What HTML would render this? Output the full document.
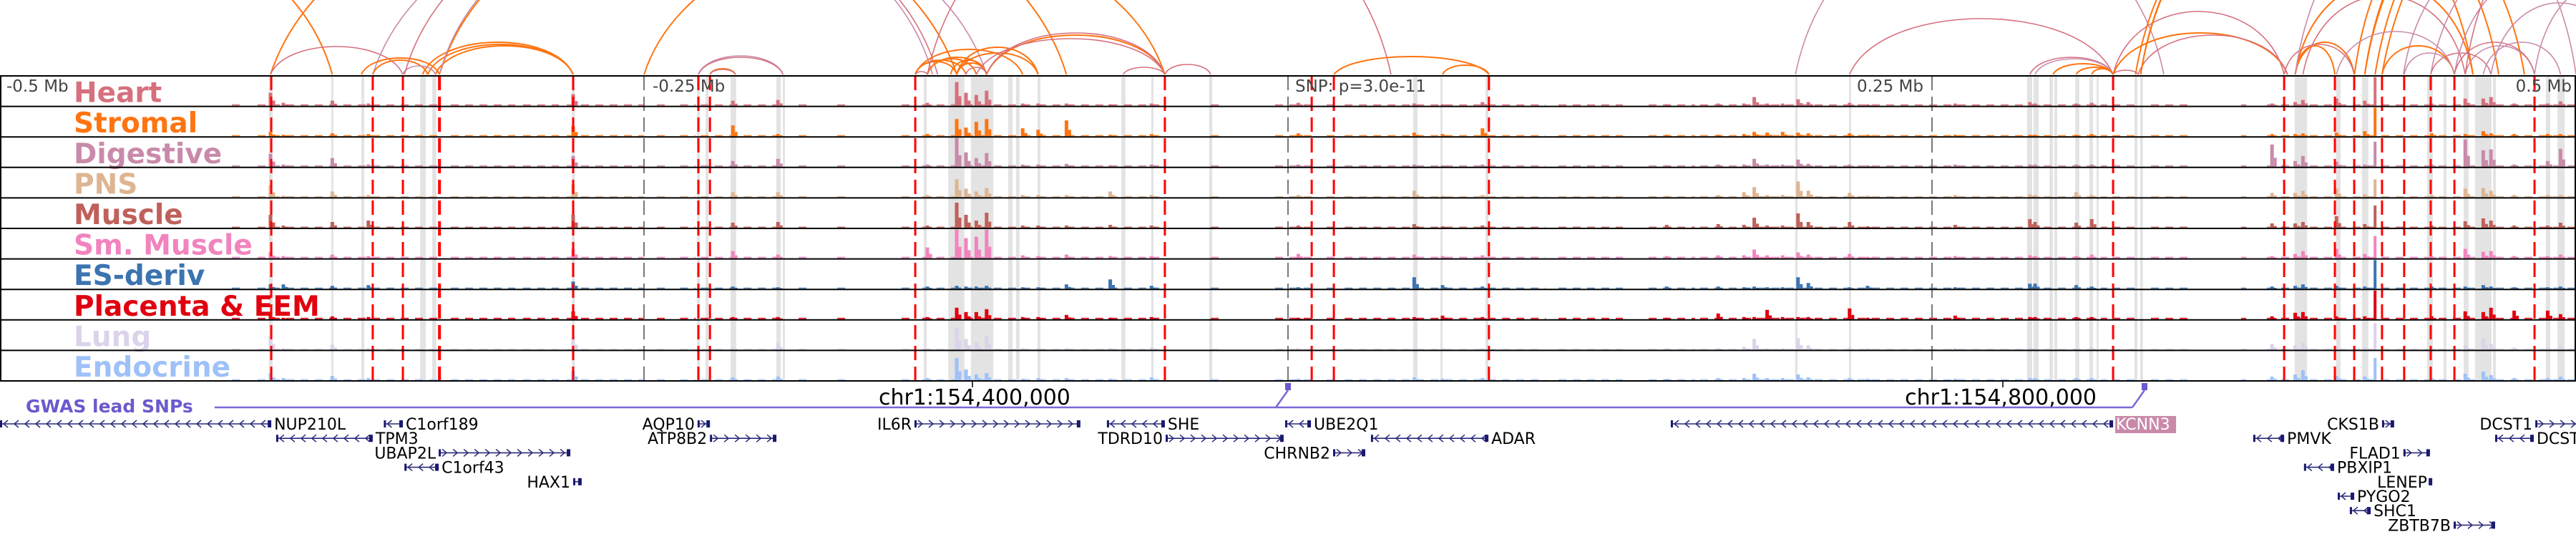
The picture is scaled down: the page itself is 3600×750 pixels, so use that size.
<!DOCTYPE html>
<html><head><meta charset="utf-8"><style>
html,body{margin:0;padding:0;background:#fff;}
svg{display:block;font-family:"DejaVu Sans","Liberation Sans",sans-serif;}
</style></head><body>
<svg id="chart" width="3600" height="750" viewBox="0 0 3600 750" xmlns="http://www.w3.org/2000/svg"></svg>
<script>
// ---------- data ----------
const trackNames = ["Heart","Stromal","Digestive","PNS","Muscle","Sm. Muscle","ES-deriv","Placenta & EEM","Lung","Endocrine"];
const trackColors = ["#d6707e","#ff7410","#c98aaa","#deb592","#c0605a","#f283be","#3b74b0","#e0000f","#dcd3ea","#9ec1f8"];
const axisTickKb = [-500,-250,0,250,500];
const axisTickLabels = ["-0.5 Mb","-0.25 Mb","","0.25 Mb","0.5 Mb"];
const snpLabel = "SNP: p=3.0e-11";
const gwasSnpKb = [0, 332.5];
const coordTickKb = [-122.5, 277.5];
const coordTickLabels = ["chr1:154,400,000","chr1:154,800,000"];
const redLinesKb = [-394.7,-355.3,-343.6,-329.4,-277.5,-228.9,-224.4,-144.7,-47.8,9.2,17.8,78,320.3,386.7,406.4,413.9,424.7,433.3,443.6,452.8,483.9];
const bandStart = [-395.6,-371.4,-359.7,-336.9,-332.2,-278,-229.4,-226.1,-216.4,-198.6,-196.1,-141.4,-131.9,-123.1,-108.6,-105.6,-97.2,-64.7,-53.1,-30.6,48.6,59.2,76.7,196.9,217.8,286.9,289.4,295.6,297.5,305.6,311.1,313.9,328.6,330.8,390.8,406.9,416.9,442.2,448.6,456.4,460.8,467.8,488.3,492.8];
const bandEnd   = [-394.2,-370.6,-358.6,-334.7,-330.6,-276.9,-228.3,-225,-214.2,-196.9,-195.3,-140.3,-125.6,-114.4,-106.9,-104.2,-96.1,-63.1,-52.2,-29.4,50.3,60,77.8,197.8,218.6,288.9,291.4,297,298.6,307.2,312.5,314.7,329.7,331.9,395.6,408.6,419.4,444.4,449.7,458.3,467.2,468.9,490,495.6];
const bgStart = [-410,-400,-325,-297,-280,-245,-236,-228,-190,-175,-150,-142,-97,-30,-5,15,22,105,140,160,320,335,370,380];
const bgEnd   = [-405,-330,-300,-283,-250,-240,-230,-195,-185,-170,-145,-100,-50,-25,10,20,100,130,158,318,330,350,372,500];
const bgLevel = [2,1.5,2,1.5,1.5,2,1.5,2,1.5,1.5];
const peakKb = [-395,-390,-371,-357,-277.5,-215.5,-198,-140,-128.6,-125,-121,-117,-103,-97,-86,-69,-53,4,49,60,75.5,147,167,177,181,186,192,198,202,218,225,259,288,290,306,312,382,391,394,407,418,422,444,457,464,467,476,489,494];
const peakHeart     = [18,4,7,3,16,7,8,4,33,18,15,21,3,3,3,2,3,4,3,2,5,2,3,3,12,3,3,9,5,4,2,3,5,3,3,4,3,5,8,10,7,40,3,10,10,12,3,3,6];
const peakStromal   = [6,2,4,3,14,15,3,3,24,12,20,24,11,9,22,2,3,4,5,3,11,2,2,3,6,5,6,5,4,4,2,2,2,2,2,3,3,3,4,5,7,40,4,3,7,4,3,3,3];
const peakDigestive = [18,3,12,3,15,8,11,3,40,20,12,19,3,3,4,2,3,3,3,2,3,2,3,3,11,3,3,10,4,3,2,3,3,3,3,3,31,8,15,7,3,35,3,38,23,24,3,8,25];
const peakPNS       = [17,2,8,3,18,7,7,3,25,12,8,13,3,3,3,8,3,3,9,2,3,2,3,7,14,3,3,22,9,6,2,3,4,3,7,3,6,6,9,12,4,25,3,12,13,9,3,3,3];
const peakMuscle    = [18,3,8,10,18,7,8,3,35,18,10,21,3,3,3,4,3,3,5,2,3,4,5,4,14,3,3,20,8,8,2,4,12,8,7,12,6,6,8,16,5,31,3,9,13,10,3,3,7];
const peakSmMuscle  = [9,3,5,3,13,10,5,15,40,28,30,40,4,3,5,3,3,6,5,3,4,3,4,4,12,4,4,8,5,6,2,3,4,3,3,5,3,6,10,13,6,31,3,13,9,10,3,3,5];
const peakES        = [6,6,4,5,10,3,2,3,4,3,3,4,2,2,6,13,4,2,16,5,3,3,3,2,3,2,2,16,8,2,4,2,7,7,5,3,3,4,6,4,3,40,3,3,5,3,2,2,3];
const peakPlacenta  = [7,2,4,3,11,3,3,3,16,10,10,14,3,3,6,2,3,2,3,5,3,2,8,3,3,13,3,3,3,15,2,5,3,3,3,3,4,9,10,4,4,40,4,11,10,16,12,12,7];
const peakLung      = [19,2,7,2,17,3,9,2,31,15,10,19,2,2,2,2,3,2,2,2,2,2,2,4,15,2,2,16,6,3,2,2,3,2,2,3,8,6,10,4,3,37,2,6,16,8,3,3,4];
const peakEndocrine = [10,3,6,3,13,4,5,3,31,15,8,10,2,3,3,2,4,2,4,2,3,2,3,3,9,3,3,8,4,3,2,2,3,3,3,3,5,8,14,6,5,31,3,9,12,7,3,3,5];
const peakSeries = [peakHeart,peakStromal,peakDigestive,peakPNS,peakMuscle,peakSmMuscle,peakES,peakPlacenta,peakLung,peakEndocrine];
const arcStart = [-395,-560,-395,-355.3,-359.7,-355.3,-336,-334,-331,-329.4,-343.6,-228.9,-228.9,-224.4,-224.4,-329.4,-343,-144.7,-144.7,-140,-140,-131,-128.6,-144.7,-128.6,-128.6,-144.7,-125,-140,-117,-117,-121,-250,-64,-47.8,17.8,60,197,218,320.3,320.3,330,331,329,331,288,290,297,306,312,320.3,391,391,386.7,391,394,391,418,418,422,414,424.7,433,443.6,452.8,457,452.8,443.6,464,467,457,483.9,433.3,424.7,407];
const arcEnd   = [-128.6,-371,-343.6,-117,-329.4,-334,-277.5,-277.5,-277.5,-86,-331,-196,-196,-214.5,-214.5,-138,-136,-128.6,-125,-121,-117,-117,-117,-103,-97,-97,-140,-117,40,-47.8,-47.8,-47.8,-47.8,-47.8,-30,78,78,340,320.3,386.7,388,388,470,480,460,320.3,320.3,320.3,320.3,320.3,330,406.4,413.9,413.9,460,457,500,560,540,580,520,600,520,550,530,483.9,483.9,467,494,520,560,540,452.8,452.8,452.8];
const arcScore = [260,220,39,240,23,20,45,42,40,260,12,26,24,8,7,230,240,18,20,22,24,20,16,35,38,30,4,10,270,55,58,50,200,10,14,25,13,230,78,88,58,55,280,290,270,24,22,15,10,8,6,40,45,42,130,110,250,300,280,320,260,330,180,200,150,40,45,30,45,100,250,130,30,40,60];
const arcTissue = [1,1,0,2,1,1,1,1,1,1,2,2,0,1,0,2,0,1,1,1,1,1,1,1,1,1,0,0,0,1,0,0,1,0,0,1,1,2,0,0,1,0,1,1,1,0,2,1,1,1,0,1,1,0,1,0,2,1,1,1,1,1,2,2,2,2,0,0,2,2,0,2,2,1,2];
const geneNames  = ["NUP210L","C1orf189","TPM3","UBAP2L","C1orf43","HAX1","AQP10","ATP8B2","IL6R","SHE","TDRD10","UBE2Q1","CHRNB2","ADAR","KCNN3","PMVK","CKS1B","FLAD1","PBXIP1","LENEP","PYGO2","SHC1","ZBTB7B","DCST1","DCST2"];
const geneStart  = [-500,-351,-392.8,-329.7,-343,-277.5,-229.2,-224.4,-145,-70.3,-47.5,-1.1,17.5,32.2,148.6,374.7,424.7,433,394.4,443.3,407.5,412.2,452.5,484.2,468.6];
const geneEnd    = [-394.7,-343.6,-355.3,-278.6,-329.7,-274.2,-224.4,-198.6,-80.6,-47.8,-1.7,8.9,30,77.8,320.3,386.7,429.4,443.3,406.1,444.2,413.9,420.3,468.6,503,483.6];
const geneStrand = [-1,-1,-1,1,-1,1,1,1,1,-1,1,-1,1,-1,-1,-1,1,1,-1,1,-1,-1,1,1,-1];
const geneRow    = [0,0,1,2,3,4,0,1,0,0,1,0,2,1,0,1,0,2,3,4,5,6,7,0,1];
const highlightGene = "KCNN3";

// ---------- layout ----------
const NS="http://www.w3.org/2000/svg";
const svg=document.getElementById('chart');
const X = kb => 1800 + kb*3.6;
const trackTop = 106, trackH = 42.6, nT = 10, tracksBottom = trackTop + trackH*nT;
const arcBase = 104;
function mk(tag, attrs, parent){const e=document.createElementNS(NS,tag);for(const k in attrs)e.setAttribute(k,attrs[k]);(parent||svg).appendChild(e);return e;}

// arcs
const arcG = mk('g',{});


const arcColors=["#d6707e","#ff7410","#c98aaa"];
for(let i=0;i<arcStart.length;i++){
  const x1=X(arcStart[i]), x2=X(arcEnd[i]), h=arcScore[i], s=x2-x1;
  const cy=arcBase-h*4/3;
  const p=mk('path',{d:`M${x1},${arcBase} C${x1+s*0.12},${cy} ${x2-s*0.12},${cy} ${x2},${arcBase}`,fill:'none',stroke:arcColors[arcTissue[i]],'stroke-width':arcTissue[i]===1?2:1.6},arcG);
  
  
}
mk('rect',{x:0,y:trackTop,width:3600,height:tracksBottom-trackTop,fill:'#fff'});

// gray bands
const bandG=mk('g',{});


for(let i=0;i<bandStart.length;i++){
  const r=mk('rect',{x:X(bandStart[i]),y:trackTop,width:Math.max(2,X(bandEnd[i])-X(bandStart[i])),height:tracksBottom-trackTop,fill:'#e3e3e3'},bandG);
  
  
}

// tracks
for(let t=0;t<nT;t++){
  const top=trackTop+t*trackH, base=top+trackH-1;
  const g=mk('g',{});
  
  
  for(let i=0;i<bgStart.length;i++){
    const xa=X(bgStart[i]), xb=X(bgEnd[i]);
    for(let x=xa;x<xb;x+=20){
      const r=mk('rect',{x:x,y:base-bgLevel[t],width:Math.min(11,xb-x),height:bgLevel[t],fill:trackColors[t],opacity:0.85},g);
      
      
    }
  }
  const vals=peakSeries[t];
  for(let i=0;i<peakKb.length;i++){
    const h=Math.min(vals[i],trackH-2), w=(peakKb[i]===422)?4:5;
    const r=mk('rect',{x:X(peakKb[i])-w/2,y:base-h,width:w,height:h,fill:trackColors[t]},g);
    
    
    if(peakKb[i]!==422){
      const sh=h*0.4;
      const r2=mk('rect',{x:X(peakKb[i])+w/2,y:base-sh,width:4,height:sh,fill:trackColors[t]},g);
      
      
    }
  }
  const lab=mk('text',{x:103,y:base-5,'font-size':39,'font-weight':'bold',fill:trackColors[t]},g);
  lab.textContent=trackNames[t];
  
  
}

// gray dashed axis lines
for(let i=0;i<axisTickKb.length;i++){
  const x=X(axisTickKb[i]);
  if(x<=0||x>=3600) continue;
  const l=mk('line',{x1:x,y1:trackTop,x2:x,y2:tracksBottom,stroke:'#777','stroke-width':2,'stroke-dasharray':'20 9'});
  
  
}
// red dashed lines
for(let i=0;i<redLinesKb.length;i++){
  const x=X(redLinesKb[i]);
  const l=mk('line',{x1:x,y1:trackTop,x2:x,y2:tracksBottom,stroke:'#ff0000','stroke-width':i===3?4:3,'stroke-dasharray':'20 9'});
  
  
}
// borders
for(let t=0;t<=nT;t++){
  const y=trackTop+t*trackH;
  const l=mk('line',{x1:0,y1:y,x2:3600,y2:y,stroke:'#000','stroke-width':2});
  
  
}
mk('line',{x1:1,y1:trackTop,x2:1,y2:tracksBottom,stroke:'#000','stroke-width':2});
mk('line',{x1:3599,y1:trackTop,x2:3599,y2:tracksBottom,stroke:'#000','stroke-width':2});

// axis labels
for(let i=0;i<axisTickKb.length;i++){
  if(!axisTickLabels[i]) continue;
  const x=X(axisTickKb[i]);
  let anchor='start', tx=x+12;
  if(axisTickKb[i]>0){anchor='end'; tx=x-12;}
  if(axisTickKb[i]===-500){tx=9;}
  if(axisTickKb[i]===500){tx=3594;}
  const t=mk('text',{x:tx,y:128,'font-size':23,fill:'#444','text-anchor':anchor});
  t.textContent=axisTickLabels[i];
  
  
}
const snpT=mk('text',{x:X(0)+10,y:128,'font-size':23,fill:'#444'});
snpT.textContent=snpLabel;



// coordinate ticks
for(let i=0;i<coordTickKb.length;i++){
  const x=X(coordTickKb[i]);
  mk('line',{x1:x,y1:532,x2:x,y2:541,stroke:'#000','stroke-width':1.5});
  const t=mk('text',{x:i===0?x-131:x+131,y:565,'font-size':30,fill:'#000','text-anchor':i===0?'start':'end'});
  t.textContent=coordTickLabels[i];
  
  
}

// GWAS
const gw=mk('text',{x:36,y:576,'font-size':25,'font-weight':'bold',fill:'#6a5acd'});
gw.textContent="GWAS lead SNPs";


const gwLine=mk('line',{x1:300,y1:569,x2:X(gwasSnpKb[1])-17,y2:569,stroke:'#7b68d6','stroke-width':2.5});


for(let i=0;i<gwasSnpKb.length;i++){
  const x=X(gwasSnpKb[i]);
  mk('line',{x1:x-17,y1:569,x2:x,y2:545,stroke:'#7b68d6','stroke-width':2.5});
  const r=mk('rect',{x:x-4,y:535,width:8,height:10,fill:'#6a5acd'});
  
  
}

// genes
const rowY=r=>592+r*20.2;
for(let i=0;i<geneNames.length;i++){
  const g=mk('g',{});
  
  
  const x1=Math.max(0,X(geneStart[i])), x2=X(geneEnd[i]), y=rowY(geneRow[i]);
  mk('line',{x1:x1,y1:y,x2:x2,y2:y,stroke:'#2b2b7a','stroke-width':1.6},g);
  for(let x=x1+8;x<x2-4;x+=15){
    const d=geneStrand[i]>0?`M${x-3},${y-5} L${x+3},${y} L${x-3},${y+5}`:`M${x+3},${y-5} L${x-3},${y} L${x+3},${y+5}`;
    mk('path',{d:d,fill:'none',stroke:'#2b2b7a','stroke-width':1.5},g);
  }
  mk('rect',{x:x1,y:y-5,width:3,height:10,fill:'#191970'},g);
  mk('rect',{x:x2-5,y:y-5,width:5,height:10,fill:'#191970'},g);
  const right=geneStrand[i]<0;
  const tx=right?x2+4:x1-4;
  if(geneNames[i]===highlightGene){
    const hr=mk('rect',{x:tx-1,y:y-11,width:85,height:24,fill:'#c98aaa'},g);
    
    
  }
  const t=mk('text',{x:tx,y:y+8,'font-size':22,fill:geneNames[i]===highlightGene?'#fff':'#000','text-anchor':right?'start':'end'},g);
  t.textContent=geneNames[i];
  
  
}
</script>
</body></html>
